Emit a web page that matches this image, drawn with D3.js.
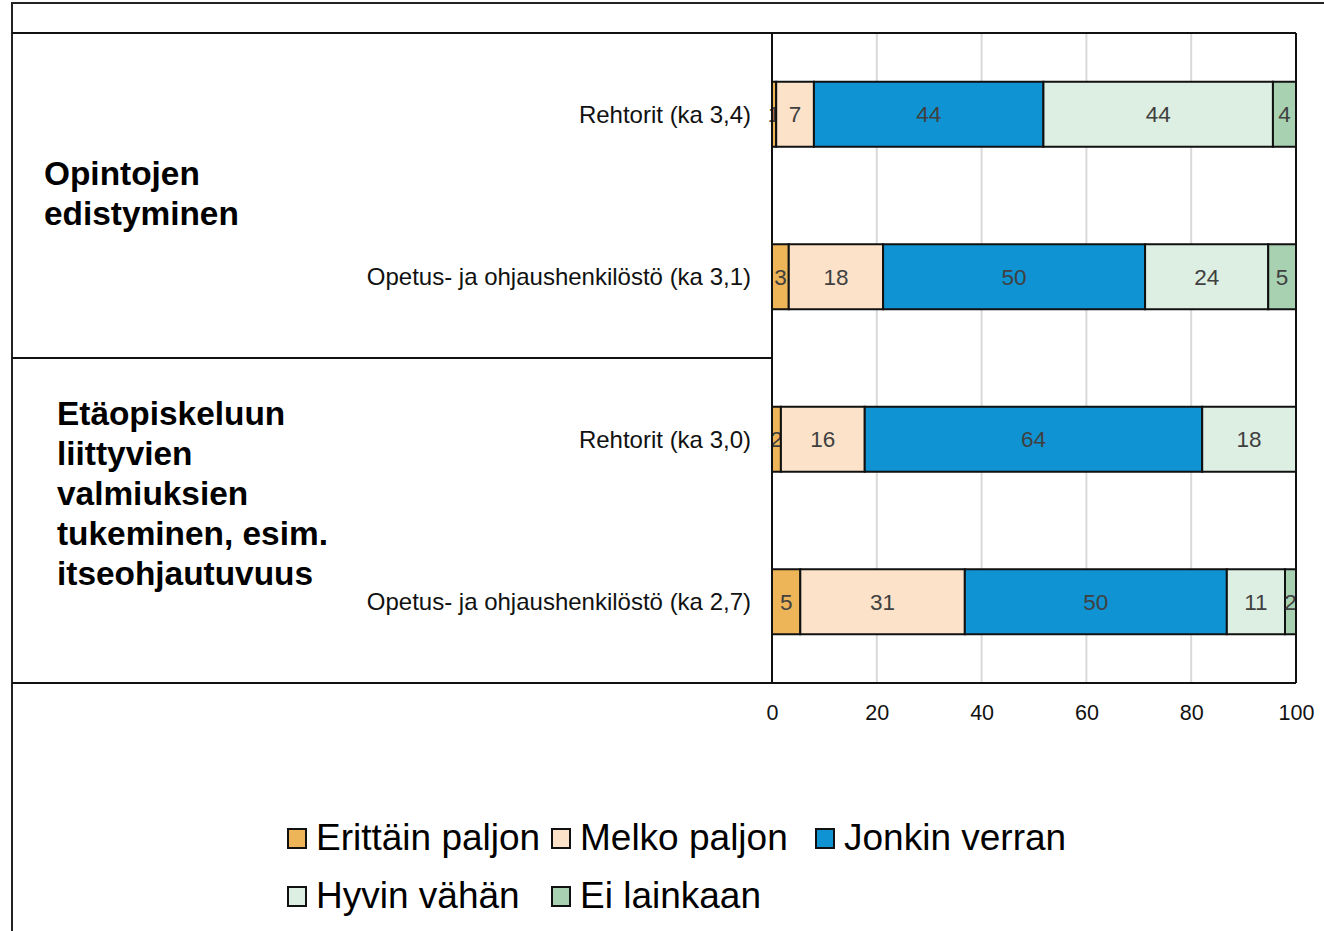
<!DOCTYPE html>
<html>
<head>
<meta charset="utf-8"/>
<title>Opintojen edistyminen</title>
<script src="https://cdn.jsdelivr.net/npm/d3@7/dist/d3.min.js"></script>
<style>
html, body {
    margin: 0;
    padding: 0;
    background: #ffffff;
}
svg text {
    font-family: "Liberation Sans", Arial, sans-serif;
}
</style>
</head>
<body>
<svg id="chart" width="1324" height="931"></svg>

<script>

// Row labels, top to bottom.
var categories = [
    "Rehtorit (ka 3,4)",
    "Opetus- ja ohjaushenkilöstö (ka 3,1)",
    "Rehtorit (ka 3,0)",
    "Opetus- ja ohjaushenkilöstö (ka 2,7)"
];

// Group labels, each covering two rows.
var groups = [
    ["Opintojen", "edistyminen"],
    ["Etäopiskeluun", "liittyvien", "valmiuksien", "tukeminen, esim.", "itseohjautuvuus"]
];

var seriesNames = ["Erittäin paljon", "Melko paljon", "Jonkin verran", "Hyvin vähän", "Ei lainkaan"];
var seriesColors = ["#edb458", "#fbe2c8", "#0f93d2", "#ddeee2", "#a8d1b2"];

// Percentages per series, one value per row (labels are rounded).
var erittainPaljon = [0.8, 3.2, 1.7, 5.4];
var melkoPaljon    = [7.2, 18.0, 16.0, 31.4];
var jonkinVerran   = [43.8, 50.0, 64.4, 50.0];
var hyvinVahan     = [43.8, 23.5, 17.9, 11.1];
var eiLainkaan     = [4.4, 5.3, 0, 2.1];

var xTicks = [0, 20, 40, 60, 80, 100];

// Layout.
const plot = {left: 772, right: 1296, top: 33, bottom: 683};
const svg = d3.select("#chart");

var x = d3.scaleLinear().domain([0, 100]).range([plot.left, plot.right]);
var y = d3.scaleBand().domain(categories).range([plot.top, plot.bottom]).paddingInner(0.6).paddingOuter(0.3);

// Build stacked rows.
var table = categories.map(function(c, i) {
    return {
        cat: c,
        "Erittäin paljon": erittainPaljon[i],
        "Melko paljon": melkoPaljon[i],
        "Jonkin verran": jonkinVerran[i],
        "Hyvin vähän": hyvinVahan[i],
        "Ei lainkaan": eiLainkaan[i]
    };
});
var stacked = d3.stack().keys(seriesNames)(table);

// Outer frame.
svg.append("rect")
    .attr("x", 12).attr("y", 3)
    .attr("width", 1340).attr("height", 960)
    .attr("fill", "none")
    .attr("stroke", "#222")
    .attr("stroke-width", 2);

// Gridlines.
svg.append("g")
    .selectAll("line")
    .data(xTicks.filter(function(t) { return t > 0 && t < 100; }))
    .join("line")
    .attr("x1", function(d) { return x(d); })
    .attr("x2", function(d) { return x(d); })
    .attr("y1", plot.top)
    .attr("y2", plot.bottom)
    .attr("stroke", "#d9d9d9")
    .attr("stroke-width", 2);

// Bars.
var layer = svg.append("g")
    .selectAll("g")
    .data(stacked)
    .join("g")
    .attr("fill", function(d, i) { return seriesColors[i]; });

layer.selectAll("rect")
    .data(function(d) { return d.filter(function(s) { return s[1] - s[0] > 0; }); })
    .join("rect")
    .attr("x", function(d) { return x(d[0]); })
    .attr("y", function(d) { return y(d.data.cat); })
    .attr("width", function(d) { return x(d[1]) - x(d[0]); })
    .attr("height", y.bandwidth())
    .attr("stroke", "#111")
    .attr("stroke-width", 2);

// Value labels.
layer.selectAll("text")
    .data(function(d) { return d.filter(function(s) { return s[1] - s[0] > 0; }); })
    .join("text")
    .attr("x", function(d) { return x((d[0] + d[1]) / 2); })
    .attr("y", function(d) { return y(d.data.cat) + y.bandwidth() / 2; })
    .attr("dy", "0.36em")
    .attr("text-anchor", "middle")
    .attr("fill", "#404040")
    .style("font-size", "22.5px")
    .text(function(d) { return Math.round(d[1] - d[0]); });

// Table lines around the plot and group cells.
var frame = svg.append("g").attr("stroke", "#111").attr("stroke-width", 2);
var midY = (y(categories[1]) + y.bandwidth() + y(categories[2])) / 2;
frame.append("line").attr("x1", 12).attr("x2", plot.right).attr("y1", plot.top).attr("y2", plot.top);
frame.append("line").attr("x1", 12).attr("x2", plot.right).attr("y1", plot.bottom).attr("y2", plot.bottom);
frame.append("line").attr("x1", 12).attr("x2", plot.left).attr("y1", midY).attr("y2", midY);
frame.append("line").attr("x1", plot.left).attr("x2", plot.left).attr("y1", plot.top).attr("y2", plot.bottom);
frame.append("line").attr("x1", plot.right).attr("x2", plot.right).attr("y1", plot.top).attr("y2", plot.bottom);

// Category labels.
svg.append("g")
    .selectAll("text")
    .data(categories)
    .join("text")
    .attr("x", plot.left - 21)
    .attr("y", function(d) { return y(d) + y.bandwidth() / 2; })
    .attr("dy", "0.36em")
    .attr("text-anchor", "end")
    .attr("fill", "#111")
    .style("font-size", "24px")
    .text(function(d) { return d; });

// Group labels.
var groupPos = [{x: 44, y: 185}, {x: 57, y: 425}];
groups.forEach(function(lines, g) {
    var t = svg.append("text")
        .attr("x", groupPos[g].x)
        .attr("y", groupPos[g].y)
        .attr("fill", "#000")
        .style("font-size", "33.4px")
        .style("font-weight", "bold");
    lines.forEach(function(line, i) {
        t.append("tspan")
            .attr("x", groupPos[g].x)
            .attr("dy", i === 0 ? 0 : 40)
            .text(line);
    });
});

// X axis.
var xAxis = svg.append("g")
    .attr("transform", "translate(0," + plot.bottom + ")")
    .call(d3.axisBottom(x).tickValues(xTicks).tickSize(0).tickPadding(22));
xAxis.select(".domain").remove();
xAxis.selectAll("text")
    .style("font-size", "21.5px")
    .style("font-family", "'Liberation Sans', Arial, sans-serif")
    .attr("fill", "#111");

// Legend.
var legendPos = [
    {x: 288, y: 850}, {x: 552, y: 850}, {x: 816, y: 850},
    {x: 288, y: 908}, {x: 552, y: 908}
];
var legend = svg.append("g")
    .selectAll("g")
    .data(seriesNames)
    .join("g")
    .attr("transform", function(d, i) { return "translate(" + legendPos[i].x + "," + legendPos[i].y + ")"; });
legend.append("rect")
    .attr("x", 0).attr("y", -21)
    .attr("width", 18).attr("height", 19)
    .attr("fill", function(d, i) { return seriesColors[i]; })
    .attr("stroke", "#111")
    .attr("stroke-width", 2);
legend.append("text")
    .attr("x", 28)
    .attr("y", 0)
    .attr("fill", "#000")
    .style("font-size", "37px")
    .text(function(d) { return d; });

</script>
</body>
</html>
